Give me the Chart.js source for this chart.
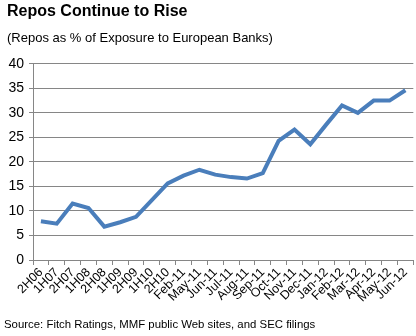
<!DOCTYPE html>
<html>
<head>
<meta charset="utf-8">
<script src="https://cdn.jsdelivr.net/npm/chart.js@4"></script>
<style>
  html, body { margin: 0; padding: 0; background: #fff; }
  #wrap { position: relative; width: 416px; height: 336px; }
  #source {
    position: absolute; left: 4px; top: 318px;
    font: 11.4px "Liberation Sans", Arial, sans-serif; color: #000;
    white-space: nowrap;
  }
</style>
</head>
<body>
<div id="wrap">
  <canvas id="line-chart" width="416" height="336"></canvas>
  <div id="source">Source: Fitch Ratings, MMF public Web sites, and SEC filings</div>
</div>
<script>
// Periods along the x axis
const periods = [
  "2H06", "1H07", "2H07", "1H08", "2H08", "1H09", "2H09", "1H10", "2H10",
  "Feb-11", "May-11", "Jun-11", "Jul-11", "Aug-11", "Sep-11", "Oct-11",
  "Nov-11", "Dec-11", "Jan-12", "Feb-12", "Mar-12", "Apr-12", "May-12", "Jun-12"
];

// Repos as % of exposure to European banks
const repoShare = [
  7.9, 7.4, 11.5, 10.6, 6.8, 7.7, 8.8, 12.2, 15.6,
  17.2, 18.4, 17.4, 16.9, 16.6, 17.7, 24.3,
  26.6, 23.6, 27.6, 31.5, 30.0, 32.5, 32.5, 34.6
];

const yTicks = [0, 5, 10, 15, 20, 25, 30, 35, 40];

const fontFamily = "'Liberation Sans', Arial, sans-serif";
const gridColor = "#868686";

const ctx = document.getElementById("line-chart");

new Chart(ctx, {
  type: "line",
  data: {
    labels: periods,
    datasets: [
      {
        label: "Repos",
        data: repoShare,
        borderColor: "#4A7EBB",
        borderWidth: 4,
        pointRadius: 0,
        tension: 0,
        fill: false,
      },
    ],
  },
  options: {
    responsive: false,
    animation: false,
    layout: {
      padding: { left: 7, right: 0, top: 0, bottom: 34 },
    },
    plugins: {
      legend: { display: false },
      tooltip: { enabled: false },
      title: {
        display: true,
        text: "Repos Continue to Rise",
        align: "start",
        color: "#000",
        font: { family: fontFamily, size: 16, weight: "bold" },
        padding: { top: 2, bottom: 9 },
      },
      subtitle: {
        display: true,
        text: "(Repos as % of Exposure to European Banks)",
        align: "start",
        color: "#000",
        font: { family: fontFamily, size: 13 },
        padding: { top: 0, bottom: 18 },
      },
    },
    scales: {
      x: {
        offset: true,
        afterFit: (axis) => {
          // rotated labels only need this much room
          axis.height = 42;
        },
        grid: {
          offset: true,
          drawOnChartArea: false,
          drawTicks: true,
          tickLength: 5,
          color: gridColor,
        },
        border: { color: gridColor },
        ticks: {
          autoSkip: false,
          minRotation: 45,
          maxRotation: 45,
          color: "#000",
          padding: 0,
          font: { family: fontFamily, size: 12.5 },
        },
      },
      y: {
        min: 0,
        max: 40,
        afterBuildTicks: (axis) => {
          axis.ticks = yTicks.map((v) => ({ value: v }));
        },
        afterFit: (axis) => {
          axis.width = 26;
        },
        grid: {
          color: gridColor,
          drawTicks: true,
          tickLength: 4,
        },
        border: { color: gridColor },
        ticks: {
          color: "#000",
          padding: 5,
          font: { family: fontFamily, size: 14 },
        },
      },
    },
  },
});
</script>
</body>
</html>
